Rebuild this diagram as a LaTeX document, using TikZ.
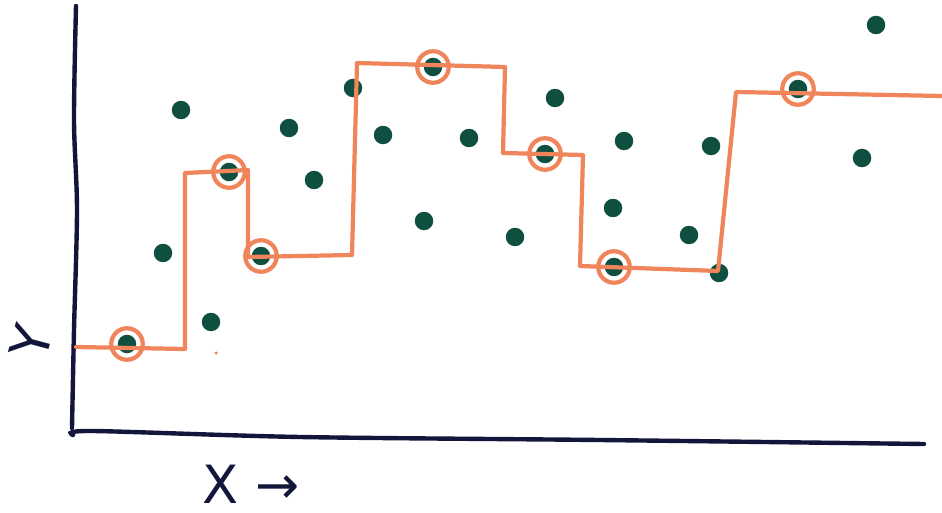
\documentclass[tikz,border=0pt]{standalone}
\usepackage{fontspec}
\setmainfont{DejaVu Sans}
\definecolor{dotgreen}{HTML}{0F4F40}
\definecolor{stepor}{HTML}{F0845A}
\definecolor{inknavy}{HTML}{13163A}
\begin{document}
\begin{tikzpicture}[x=0.02cm, y=-0.02cm,
		dot/.style={circle, fill=dotgreen, inner sep=0pt, minimum size=0.37cm},
		ring/.style={circle, draw=stepor, line width=2.4pt, inner sep=0pt, minimum size=0.63cm},
		speck/.style={circle, fill=stepor, inner sep=0pt, minimum size=0.07cm},
		axis/.style={inknavy, line width=2.5pt, line cap=round},
		stepline/.style={stepor, line width=2.4pt, line join=round, line cap=round},
		hand/.style={text=inknavy, font=\fontsize{30}{30}\selectfont, inner sep=0pt}]
		
		\useasboundingbox (0,0) rectangle (942,513);
		
		% axes
		\draw[axis] plot[smooth] coordinates {(76,6) (74,120) (77,210) (74,330) (72,428)};
		\draw[axis] plot[smooth] coordinates {(73,435) (92,431) (300,437) (600,440) (924,444)};
		\node[hand, rotate=75] (ylab) at (31,342) {Y};
		\node[hand] (xlab) at (251,484) {X →};
		
		% data points
		\node[dot] (A) at (127,344) {};
		\node[dot] (B) at (163,253) {};
		\node[dot] (C) at (181,110) {};
		\node[dot] (D) at (211,322) {};
		\node[dot] (E) at (229,172) {};
		\node[dot] (F) at (261,256) {};
		\node[dot] (G) at (289,128) {};
		\node[dot] (H) at (314,180) {};
		\node[dot] (I) at (353,88) {};
		\node[dot] (J) at (383,135) {};
		\node[dot] (K) at (424,221) {};
		\node[dot] (L) at (433,67) {};
		\node[dot] (M) at (469,138) {};
		\node[dot] (N) at (515,237) {};
		\node[dot] (O) at (545,154) {};
		\node[dot] (P) at (555,98) {};
		\node[dot] (Q) at (613,208) {};
		\node[dot] (R) at (624,141) {};
		\node[dot] (S) at (614,267) {};
		\node[dot] (T) at (689,235) {};
		\node[dot] (U) at (711,146) {};
		\node[dot] (V) at (719,273) {};
		\node[dot] (W) at (798,89) {};
		\node[dot] (X) at (862,158) {};
		\node[dot] (Y) at (876,25) {};
		\node[speck] (sp) at (216,353) {};
		
		% step function
		\coordinate (s0) at (76,347);
		\coordinate (s1) at (185,349);
		\coordinate (s2) at (185,173);
		\coordinate (s3) at (248,170);
		\coordinate (s4) at (248,257);
		\coordinate (s5) at (352,255);
		\coordinate (s6) at (357,63);
		\coordinate (s7) at (505,67);
		\coordinate (s8) at (503,153);
		\coordinate (s9) at (583,155);
		\coordinate (s10) at (580,266);
		\coordinate (s11) at (718,271);
		\coordinate (s12) at (736,92);
		\coordinate (s13) at (942,96);
		\draw[stepline] (s0) -- (s1) -- (s2) -- (s3) -- (s4) -- (s5) -- (s6) -- (s7)
			-- (s8) -- (s9) -- (s10) -- (s11) -- (s12) -- (s13);
		
		% chosen points
		\foreach \p in {A,E,F,L,O,S,W}
			\node[ring] (\p') at (\p) {};
	\end{tikzpicture}
\end{document}
